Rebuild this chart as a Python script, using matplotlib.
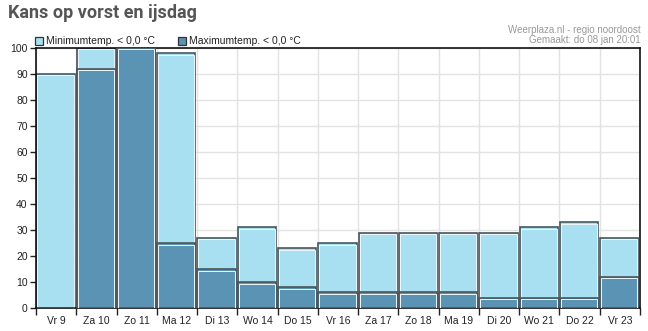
import matplotlib
matplotlib.use("Agg")
import matplotlib.pyplot as plt
from matplotlib.patches import Rectangle
import numpy as np

days = ["Vr 9", "Za 10", "Zo 11", "Ma 12", "Di 13", "Wo 14", "Do 15", "Vr 16",
        "Za 17", "Zo 18", "Ma 19", "Di 20", "Wo 21", "Do 22", "Vr 23"]
min_below_zero = [90, 100, 100, 98, 27, 31, 23, 25, 29, 29, 29, 29, 31, 33, 27]
max_below_zero = [0, 92, 100, 25, 15, 10, 8, 6, 6, 6, 6, 4, 4, 4, 12]
y_ticks = list(range(0, 101, 10))

LIGHT = "#a8e0f2"
DARK = "#5b93b4"
EDGE = "#4a565c"
HILITE = "#eef8fb"

plt.rcParams["font.family"] = ["Liberation Sans", "DejaVu Sans"]

fig = plt.figure(figsize=(6.48, 3.31), dpi=100)
ax = fig.add_axes([0.0556, 0.0695, 0.932, 0.786])

x = np.arange(len(days))
w = 0.95
left = x - 0.5 + 0.01


def draw_bars(values, color, z):
    ax.bar(left, values, width=w, align="edge", color=color,
           edgecolor=EDGE, linewidth=1.2, zorder=z)
    # thin inner highlight along the bar outline
    inner = [max(v - 0.6, 0) for v in values]
    ax.bar(left + 0.025, inner, width=w - 0.05, align="edge", fill=False,
           edgecolor=HILITE, linewidth=0.7, zorder=z + 0.1)


draw_bars(min_below_zero, LIGHT, 2)
draw_bars(max_below_zero, DARK, 3)

ax.set_xlim(-0.5, len(days) - 0.5)
ax.set_ylim(0, 100)
ax.set_yticks(y_ticks)
ax.set_xticks(x)
ax.set_xticklabels(days)
ax.set_xticks(np.arange(len(days) + 1) - 0.5, minor=True)
ax.tick_params(axis="x", which="major", length=0, labelsize=7.5,
               pad=6, colors="#222222")
ax.tick_params(axis="x", which="minor", length=5, width=1, color="#222222")
ax.tick_params(axis="y", length=4, width=1, labelsize=7.5, pad=2,
               colors="#222222")

ax.grid(True, which="minor", axis="x", color="#e2e2e2", linewidth=1, zorder=0)
ax.grid(True, which="major", axis="y", color="#e2e2e2", linewidth=1, zorder=0)
ax.set_axisbelow(True)
for side in ["left", "bottom", "right", "top"]:
    ax.spines[side].set_color("#111111")
    ax.spines[side].set_linewidth(1.2)
ax.spines["left"].set_zorder(5)

# title and source text
fig.text(0.012, 0.962, "Kans op vorst en ijsdag", family="Roboto",
         fontweight="bold", fontsize=13, color="#555555", va="center")
fig.text(0.988, 0.908, "Weerplaza.nl - regio noordoost", fontsize=7,
         color="#999999", ha="right", va="center")
fig.text(0.988, 0.878, "Gemaakt: do 08 jan 20:01", fontsize=7,
         color="#999999", ha="right", va="center")

# legend above the plot area
legend_items = [("Minimumtemp. < 0,0 °C", LIGHT, 35),
                ("Maximumtemp. < 0,0 °C", DARK, 178)]
for label, color, px in legend_items:
    fig.patches.append(Rectangle((px / 648, 1 - 45 / 331), 8 / 648, 8 / 331,
                                 transform=fig.transFigure, facecolor=color,
                                 edgecolor="#333333", linewidth=0.9))
    fig.text((px + 11) / 648, 1 - 41 / 331, label, fontsize=7.5,
             color="#222222", va="center")

fig.savefig("out.png", dpi=100)
